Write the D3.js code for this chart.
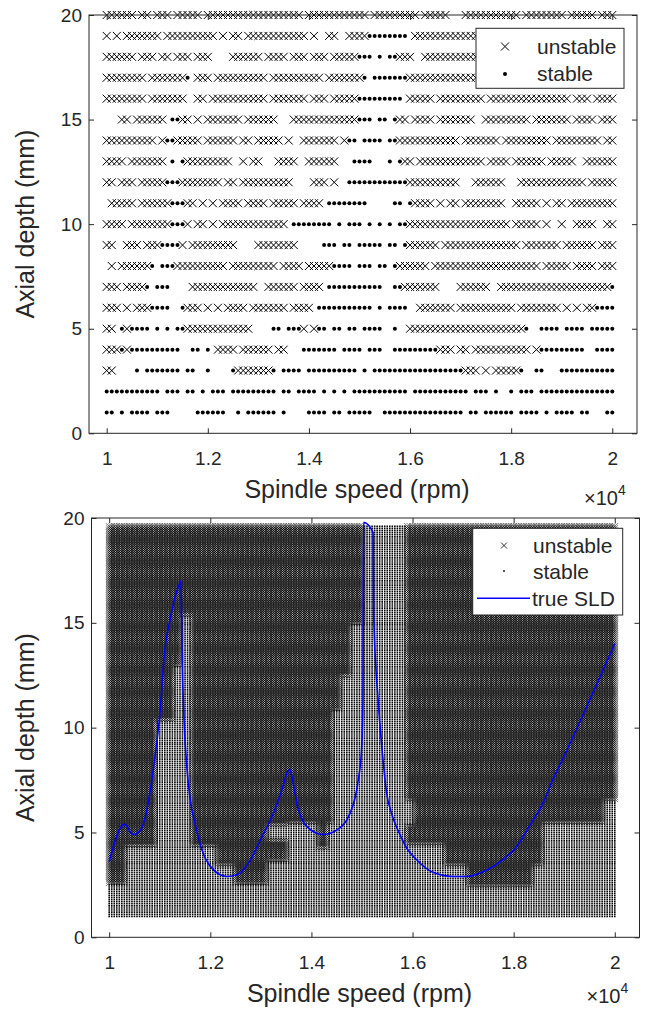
<!DOCTYPE html>
<html><head><meta charset="utf-8">
<script src="https://cdn.jsdelivr.net/npm/d3@7"></script>
<style>
body{margin:0;background:#fff}
svg{display:block}
text{font-family:"Liberation Sans",Arial,Helvetica,sans-serif;fill:#262626}
</style>
</head><body>
<svg id="c" width="652" height="1013"></svg>
<script>
// ---------------- DATA ----------------
// Top chart: sampled grid, speeds 10000..20000 step 100 rpm (101 positions), depths 1..20 mm.
// Each row: run tokens "<startIndex><type>", x = unstable, o = stable, _ = not sampled.
const topSpeedStart = 10000, topSpeedStep = 100, topSpeedCount = 101;
const topRows = {
  20: "0x 6_ 7x 9_ 10x 13_ 14x 19_ 20x 39_ 40x 52_ 53x 62_ 63x 68_ 71x 82_ 83x 91_ 92x 97_ 98x",
  19: "0x 1_ 2x 3_ 4x 11_ 12x 22_ 23x 24_ 25x 27_ 28x 40_ 41x 42_ 44x 46_ 48x 52o 60_ 61x",
  18: "0x 6_ 7x 10_ 11x 13_ 14x 17_ 18x 21_ 25x 31_ 32x 36_ 37x 40_ 41x 44_ 45x 50o 53_ 54o 55_ 56o 58x 61_ 63x",
  17: "0x 8_ 9x 16o 17_ 18x 21_ 22x 32_ 33x 43_ 44x 51o 52_ 53o 60x",
  16: "0x 8_ 9x 16_ 18x 20_ 21x 32_ 33x 40_ 41x 44_ 45x 50o 59_ 60x 65_ 66x 75_ 76x 92_ 93x 96_ 97x",
  15: "0_ 3x 5_ 6x 12_ 13o 15x 17_ 18x 19_ 20x 27_ 28x 34_ 37x 50o 53_ 54o 56_ 57o 58x 60_ 61x 65_ 66x 73_ 75x 84_ 85x 92_ 93x 97_ 98x",
  14: "0x 10_ 11x 12o 14x 19_ 20x 26_ 27x 29_ 30x 35_ 36x 37_ 39x 46_ 47x 48o 50_ 51o 55_ 56o 58x 70_ 71x 78_ 79x 88_ 89x 98_ 99x",
  13: "0x 4_ 5x 12_ 13o 14_ 15o 16x 25_ 27x 28_ 29x 31_ 34x 38_ 40x 46_ 49o 53_ 56o 57_ 58o 59x 61_ 62x 75_ 76x 80_ 81x 87_ 88x 93_ 95x",
  12: "0x 2_ 3x 6_ 7x 12o 15x 23_ 24x 26_ 27x 37_ 41x 44_ 45x 46_ 48o 60x 70_ 73x 79_ 82x 95_ 96x",
  11: "0_ 1x 6_ 7x 13o 16x 18_ 19x 20_ 21x 22_ 23x 27_ 28x 32_ 33x 38_ 39x 43_ 44o 52_ 57o 59_ 60o 61x 65_ 66x 67_ 68x 70_ 71x 79_ 81x 86_ 87x 88_ 89x 91_ 92x",
  10: "0x 4_ 5x 13o 16x 17_ 18x 20_ 21x 22_ 23x 36_ 37o 45_ 46o 47_ 48o 51_ 52o 53_ 54o 55_ 56o 57_ 58o 60x 80_ 81x 86_ 87x 88_ 90x 91_ 93x 97_ 99x",
  9:  "0x 2_ 4x 7_ 8x 11o 15x 16_ 17x 26_ 30x 38_ 43o 46_ 47o 49_ 50o 55_ 56o 58_ 59o 60x 66_ 67x 82_ 83x 90_ 91x 97_ 98x",
  8:  "0_ 1x 2_ 3x 9o 10_ 11o 14x 24_ 25x 34_ 35x 39_ 40x 45o 49_ 50o 53_ 54o 56_ 57o 58x 64_ 65x 86_ 87x 92_ 93x 97_ 98x",
  7:  "0x 3_ 4x 8o 9_ 10o 13_ 17x 30_ 32x 38_ 39x 43_ 44o 55_ 57o 59x 66_ 70x 76_ 78x 100o",
  6:  "0x 3_ 4x 5_ 6x 9o 13_ 15o 16x 19_ 20x 21_ 22x 23_ 24x 28_ 29x 36_ 37x 41_ 42o 53_ 54o 55_ 56o 60_ 62x 69_ 70x 81_ 82x 90_ 91x 92_ 93x 94_ 95x 97o",
  5:  "0x 2_ 3o 4x 5o 9_ 10o 11_ 12o 13_ 14o 16x 29_ 33o 35_ 36o 39x 40_ 41x 42o 44_ 45o 47_ 48o 50_ 51o 55_ 57o 58_ 60x 83o 84_ 86o 90_ 91o 95_ 96o",
  4:  "0x 3o 4x 5o 15_ 17o 19_ 20o 21_ 22x 26_ 27x 33_ 34x 36_ 39o 46_ 47o 51_ 52o 55_ 57o 66x 69_ 70x 72_ 73x 84_ 85x 86o 95_ 97o",
  3:  "0x 2_ 6o 7_ 8o 15_ 16o 18_ 20o 21_ 25o 26x 33o 34_ 35o 39_ 40o 50_ 51o 52_ 53o 71x 74_ 75x 76_ 77x 82o 83_ 85o 87_ 90o",
  2:  "0o 11_ 12o 15_ 16o 18_ 19o 20_ 21o 24_ 25o 34_ 35o 37_ 38o 42_ 43o 44_ 45o 46_ 47o 48_ 49o 60_ 61o 72_ 73o 76_ 77o 78_ 80o 81_ 82o 85_ 86o",
  1:  "0o 2_ 3o 4_ 5o 9_ 10o 13_ 18o 24_ 26o 27_ 28o 34_ 35o 36_ 40o 44_ 45o 47_ 48o 53_ 55o 71_ 72o 74_ 75o 81_ 82o 86_ 87o 88_ 89o 93_ 94o 96_ 99o"
};

// Bottom chart: dense grid, speeds 10000..20000 step 50 rpm, depths 1.0..19.6 step 0.1 mm.
const botSpeedStart = 10000, botSpeedStep = 50, botSpeedCount = 201;
const botDepthStart = 1.0, botDepthStep = 0.1, botDepthCount = 187;
// Unstable regions: [speedFrom, speedTo, depthFrom, depthTo]
const unstableBlocks = [
  [10000, 10340, 2.6, 19.6],
  [10340, 10950, 4.4, 19.6],
  [10950, 11300, 10.4, 19.6],
  [11300, 11420, 13.0, 19.6],
  [11420, 11650, 15.4, 19.6],
  [11650, 12150, 4.4, 19.6],
  [12150, 12490, 3.5, 19.6],
  [12490, 13120, 2.6, 19.6],
  [13120, 13540, 3.7, 4.6],
  [13120, 13540, 5.4, 19.6],
  [13540, 14110, 5.5, 19.6],
  [14110, 14330, 4.3, 19.6],
  [14330, 14450, 5.5, 19.6],
  [14450, 14600, 10.9, 19.6],
  [14600, 14800, 12.5, 19.6],
  [14800, 15050, 15.0, 19.6],
  [15880, 16050, 6.6, 19.6],
  [15880, 16050, 4.5, 5.3],
  [16050, 16650, 4.5, 19.6],
  [16650, 17100, 3.5, 19.6],
  [17100, 18400, 2.5, 19.6],
  [18400, 18600, 3.5, 19.6],
  [18600, 19800, 5.5, 19.6],
  [19800, 20000, 6.6, 19.6]
];
// True stability lobe diagram (blue line)
const sldSpeed = [10000,10300,10470,10610,10700,10800,10900,11000,11100,11200,11300,11400,11420,11440,11480,11540,11600,11700,11830,12030,12330,12540,12820,13000,13210,13400,13560,13740,13900,14230,14490,14760,14920,14990,15020,15030,15220,15230,15320,15400,15480,15600,15750,15900,16080,16400,16800,17060,17460,17790,18050,18310,18580,18770,18970,19500,20000];
const sldDepth = [3.6,5.4,4.9,5.1,5.6,6.8,8.5,10.6,13.7,15.1,16.2,16.9,17.0,13.7,10.4,8.0,6.6,5.4,4.2,3.3,2.9,3.0,3.8,4.7,5.7,6.9,8.0,6.1,5.3,4.9,5.1,5.9,7.4,8.9,11.3,19.8,19.3,15.5,11.3,8.9,7.0,5.8,4.9,4.2,3.7,3.1,2.9,2.9,3.2,3.7,4.3,5.3,6.4,7.5,8.5,11.3,14.0];

const xTickValues = [10000, 12000, 14000, 16000, 18000, 20000];
const xTickLabels = ["1", "1.2", "1.4", "1.6", "1.8", "2"];
const yTickValues = [0, 5, 10, 15, 20];
const yTickLabels = ["0", "5", "10", "15", "20"];

// ---------------- DRAWING ----------------
const svg = d3.select("#c");
svg.append("rect").attr("width", 652).attr("height", 1013).attr("fill", "#fff");

function parseRow(s) {
  const toks = s.trim().split(/\s+/).map(t => ({i: +t.slice(0, -1), c: t.slice(-1)}));
  const out = new Array(topSpeedCount).fill("_");
  toks.forEach((t, k) => {
    const end = k + 1 < toks.length ? toks[k + 1].i : topSpeedCount;
    for (let j = t.i; j < end && j < topSpeedCount; j++) out[j] = t.c;
  });
  return out;
}

const AX = "#262626";
const FONT = '"Liberation Sans",Arial,sans-serif';

function drawAxes(g, x, y, box, expOffset) {
  const [L, R, T, B] = box;
  const xFmt = (d) => xTickLabels[xTickValues.indexOf(d)];
  const yFmt = (d) => yTickLabels[yTickValues.indexOf(d)];
  const ax = g.append("g").attr("transform", `translate(0,${B})`)
    .call(d3.axisBottom(x).tickValues(xTickValues).tickFormat(xFmt).tickSizeInner(-5).tickSizeOuter(0).tickPadding(18));
  const axT = g.append("g").attr("transform", `translate(0,${T})`)
    .call(d3.axisTop(x).tickValues(xTickValues).tickFormat("").tickSizeInner(-5).tickSizeOuter(0));
  const ay = g.append("g").attr("transform", `translate(${L},0)`)
    .call(d3.axisLeft(y).tickValues(yTickValues).tickFormat(yFmt).tickSizeInner(-5).tickSizeOuter(0).tickPadding(7));
  const ayR = g.append("g").attr("transform", `translate(${R},0)`)
    .call(d3.axisRight(y).tickValues(yTickValues).tickFormat("").tickSizeInner(-5).tickSizeOuter(0));
  [ax, axT, ay, ayR].forEach(a => {
    a.select(".domain").remove();
    a.selectAll("line").attr("stroke", AX).attr("stroke-width", 1);
    a.selectAll("text").attr("font-size", 19).attr("fill", AX).attr("font-family", FONT);
  });
  g.append("rect").attr("x", L).attr("y", T).attr("width", R - L).attr("height", B - T)
    .attr("fill", "none").attr("stroke", AX).attr("stroke-width", 1);
  g.append("text").attr("x", (L + R) / 2 - 6).attr("y", B + 65).attr("text-anchor", "middle")
    .attr("font-size", 25).attr("fill", AX).text("Spindle speed (rpm)");
  g.append("text").attr("transform", `translate(34,${(T + B) / 2}) rotate(-90)`).attr("text-anchor", "middle")
    .attr("font-size", 25).attr("fill", AX).text("Axial depth (mm)");
  const e = g.append("text").attr("x", R - 53).attr("y", B + expOffset).attr("font-size", 20).attr("fill", AX);
  e.append("tspan").text("\u00d710");
  e.append("tspan").attr("dy", -10).attr("font-size", 14).text("4");
}

// ---------- TOP CHART ----------
const topBox = [89, 637, 15, 433.3];
const xTop = d3.scaleLinear().domain([9650, 20489]).range([topBox[0], topBox[1]]);
const yTop = d3.scaleLinear().domain([0, 20]).range([topBox[3], topBox[2]]);
const gTop = svg.append("g");
let pxT = "", pdT = [];
Object.keys(topRows).forEach(k => {
  const depth = +k;
  parseRow(topRows[k]).forEach((c, i) => {
    const sp = topSpeedStart + topSpeedStep * i;
    const X = xTop(sp), Y = yTop(depth);
    if (c === "x") pxT += `M${X - 4},${Y - 4}L${X + 4},${Y + 4}M${X - 4},${Y + 4}L${X + 4},${Y - 4}`;
    else if (c === "o") pdT.push([X, Y]);
  });
});
gTop.append("path").attr("d", pxT).attr("stroke", "#000").attr("stroke-width", 1).attr("fill", "none");
gTop.selectAll("circle.d").data(pdT).join("circle").attr("cx", d => d[0]).attr("cy", d => d[1]).attr("r", 2).attr("fill", "#000");
drawAxes(gTop, xTop, yTop, topBox, 72);
// legend
{
  const lg = gTop.append("g");
  lg.append("rect").attr("x", 476).attr("y", 28.3).attr("width", 148).attr("height", 60).attr("fill", "#fff").attr("stroke", AX).attr("stroke-width", 1);
  const cx = 505, cy = 46.5;
  lg.append("path").attr("d", `M${cx - 4},${cy - 4}L${cx + 4},${cy + 4}M${cx - 4},${cy + 4}L${cx + 4},${cy - 4}`).attr("stroke", "#000").attr("stroke-width", 1);
  lg.append("circle").attr("cx", cx).attr("cy", 74).attr("r", 2).attr("fill", "#000");
  lg.append("text").attr("x", 537).attr("y", 53.5).attr("font-size", 21).attr("fill", "#000").text("unstable");
  lg.append("text").attr("x", 537).attr("y", 81).attr("font-size", 21).attr("fill", "#000").text("stable");
}

// ---------- BOTTOM CHART ----------
const botBox = [91.5, 639.5, 518, 937.3];
const xBot = d3.scaleLinear().domain([9650, 20489]).range([botBox[0], botBox[1]]);
const yBot = d3.scaleLinear().domain([0, 20]).range([botBox[3], botBox[2]]);
const gBot = svg.append("g");
const isUnstable = (s, d) => unstableBlocks.some(b => s >= b[0] && s < b[1] + (b[1] === 20000 ? 1 : 0) && d >= b[2] - 1e-9 && d <= b[3] + 1e-9);
let pxB = "", pdB = "";
const hb = 3.3;
for (let i = 0; i < botSpeedCount; i++) {
  const sp = botSpeedStart + botSpeedStep * i;
  for (let j = 0; j < botDepthCount; j++) {
    const dp = +(botDepthStart + botDepthStep * j).toFixed(2);
    const X = xBot(sp), Y = yBot(dp);
    if (isUnstable(sp, dp)) pxB += `M${(X - hb).toFixed(2)},${(Y - hb).toFixed(2)}L${(X + hb).toFixed(2)},${(Y + hb).toFixed(2)}M${(X - hb).toFixed(2)},${(Y + hb).toFixed(2)}L${(X + hb).toFixed(2)},${(Y - hb).toFixed(2)}`;
    else pdB += `M${(X - 0.8).toFixed(2)},${(Y - 0.8).toFixed(2)}h1.6v1.6h-1.6z`;
  }
}
gBot.append("path").attr("d", pdB).attr("fill", "#000");
gBot.append("path").attr("d", pxB).attr("stroke", "#000").attr("stroke-width", 0.55).attr("fill", "none");
const line = d3.line().x((d, i) => xBot(sldSpeed[i])).y((d, i) => yBot(sldDepth[i])).curve(d3.curveMonotoneX);
gBot.append("path").attr("d", line(sldSpeed)).attr("stroke", "#0000ff").attr("stroke-width", 1.6).attr("fill", "none");
drawAxes(gBot, xBot, yBot, botBox, 66);
{
  const lg = gBot.append("g");
  lg.append("rect").attr("x", 472.7).attr("y", 528.3).attr("width", 150).attr("height", 86.7).attr("fill", "#fff").attr("stroke", AX).attr("stroke-width", 1);
  const cx = 504, cy = 545.5;
  lg.append("path").attr("d", `M${cx - 3},${cy - 3}L${cx + 3},${cy + 3}M${cx - 3},${cy + 3}L${cx + 3},${cy - 3}`).attr("stroke", "#000").attr("stroke-width", 0.8);
  lg.append("rect").attr("x", 503.2).attr("y", 570.2).attr("width", 1.6).attr("height", 1.6).attr("fill", "#000");
  lg.append("line").attr("x1", 477).attr("x2", 530).attr("y1", 598.3).attr("y2", 598.3).attr("stroke", "#0000ff").attr("stroke-width", 1.6);
  lg.append("text").attr("x", 533).attr("y", 552.5).attr("font-size", 21).attr("fill", "#000").text("unstable");
  lg.append("text").attr("x", 533).attr("y", 578.5).attr("font-size", 21).attr("fill", "#000").text("stable");
  lg.append("text").attr("x", 532).attr("y", 606).attr("font-size", 21).attr("fill", "#000").text("true SLD");
}
</script>
</body></html>
